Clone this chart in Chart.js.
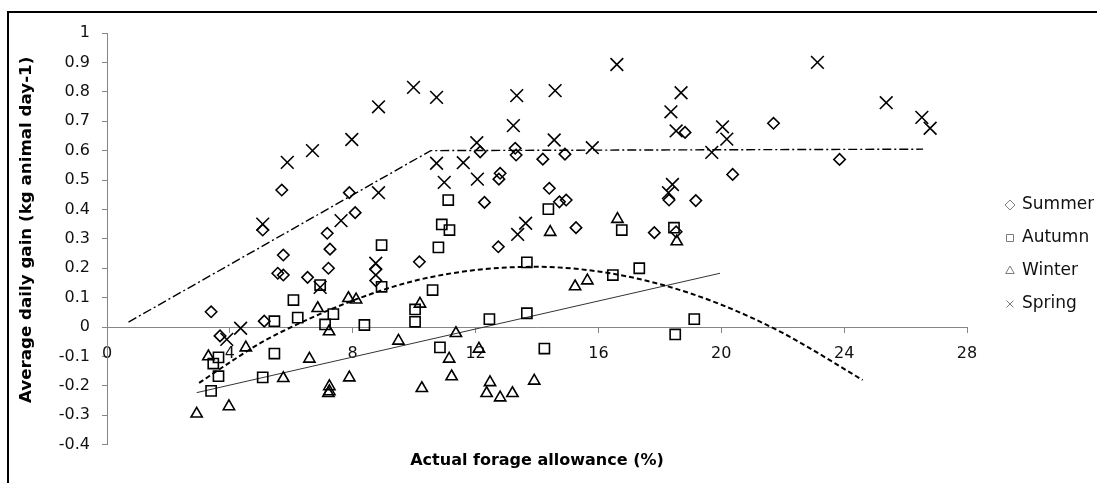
<!DOCTYPE html>
<html>
<head>
<meta charset="utf-8">
<script src="https://cdn.jsdelivr.net/npm/chart.js@4.4.1/dist/chart.umd.min.js"></script>
<style>
  html, body { margin: 0; padding: 0; background: #fff; }
  #frame { position: relative; width: 1097px; height: 483px; overflow: hidden; }
  #edge { position: absolute; left: 7px; top: 11px; right: -5px; bottom: -5px;
          border-left: 2px solid #000; border-top: 2px solid #000; }
  #chart { position: absolute; left: 0; top: 0; }
</style>
</head>
<body>
<div id="frame">
  <div id="edge"></div>
  <canvas id="chart" width="1097" height="483"></canvas>
</div>
<script>
// Observed daily gain by season
const summerX = [3.39, 3.68, 5.12, 5.07, 5.69, 5.74, 5.56, 5.74, 6.53, 7.17, 7.26, 7.21, 7.89, 8.08, 8.75, 8.75, 10.17,
  12.15, 12.8, 12.76, 12.29, 12.74, 13.29, 13.32, 14.19, 14.91, 14.4, 14.73, 14.95, 15.27, 17.82, 18.53, 18.3, 19.17,
  18.82, 20.37, 21.7, 23.85];
const summerY = [0.052, -0.03, 0.02, 0.33, 0.466, 0.245, 0.183, 0.177, 0.169, 0.319, 0.265, 0.2, 0.457, 0.389, 0.196, 0.158, 0.222,
  0.596, 0.523, 0.503, 0.424, 0.273, 0.608, 0.585, 0.571, 0.588, 0.472, 0.426, 0.432, 0.338, 0.321, 0.324, 0.432, 0.43,
  0.662, 0.519, 0.693, 0.57];

const autumnX = [3.39, 3.46, 3.63, 3.63, 5.07, 5.45, 5.45, 6.07, 6.21, 6.94, 7.1, 7.37, 8.38, 8.94, 8.94, 10.03, 10.03,
  10.6, 10.79, 10.9, 11.15, 11.11, 10.84, 12.45, 13.67, 13.67, 14.24, 14.37, 16.47, 17.33, 16.76, 18.46, 19.12, 18.5];
const autumnY = [-0.217, -0.124, -0.103, -0.167, -0.171, -0.09, 0.02, 0.092, 0.032, 0.143, 0.009, 0.044, 0.007, 0.279, 0.137, 0.06, 0.018,
  0.126, 0.271, 0.349, 0.33, 0.432, -0.069, 0.027, 0.22, 0.047, -0.073, 0.401, 0.177, 0.2, 0.33, 0.338, 0.027, -0.025];

const winterX = [2.92, 3.3, 3.97, 4.52, 5.74, 6.59, 6.86, 7.23, 7.24, 7.24, 7.21, 7.86, 8.11, 7.89, 9.49, 10.19, 10.25,
  11.36, 11.14, 11.22, 12.11, 12.47, 12.36, 12.8, 13.2, 13.91, 14.43, 15.24, 15.64, 16.62, 18.55];
const winterY = [-0.295, -0.1, -0.27, -0.07, -0.174, -0.108, 0.064, -0.015, -0.202, -0.219, -0.225, 0.098, 0.093, -0.172, -0.047, 0.079, -0.208,
  -0.021, -0.108, -0.168, -0.074, -0.188, -0.225, -0.24, -0.225, -0.183, 0.323, 0.138, 0.158, 0.367, 0.291];

const springX = [3.9, 4.35, 5.07, 5.87, 6.69, 6.94, 7.62, 7.97, 8.75, 8.84, 8.84, 9.98, 10.73, 10.73, 10.98, 11.6,
  12.04, 12.06, 13.34, 13.23, 13.63, 13.37, 14.59, 14.56, 15.8, 16.6, 18.36, 18.69, 18.53, 18.41, 18.28, 19.69,
  20.04, 20.18, 23.13, 25.37, 26.53, 26.8];
const springY = [-0.042, -0.004, 0.35, 0.56, 0.6, 0.135, 0.362, 0.638, 0.217, 0.749, 0.457, 0.815, 0.781, 0.557, 0.492, 0.559,
  0.627, 0.503, 0.787, 0.685, 0.353, 0.315, 0.804, 0.636, 0.61, 0.893, 0.732, 0.797, 0.667, 0.485, 0.457, 0.594,
  0.681, 0.639, 0.9, 0.763, 0.713, 0.676];

// Fitted response lines
const springFitX = [0.7, 10.54, 26.57];
const springFitY = [0.017, 0.6, 0.605];
const curveX = [3, 4, 5, 6, 8, 10, 12, 14, 16, 18, 20, 22, 24.6];
const curveY = [-0.19, -0.12, -0.054, 0.0, 0.09, 0.157, 0.194, 0.205, 0.189, 0.146, 0.076, -0.02, -0.18];
const winterFitX = [2.92, 19.96];
const winterFitY = [-0.223, 0.183];

// Axis ticks
const xTicks = [0, 4, 8, 12, 16, 20, 24, 28];
const yTicks = [-0.4, -0.3, -0.2, -0.1, 0, 0.1, 0.2, 0.3, 0.4, 0.5, 0.6, 0.7, 0.8, 0.9, 1];

const seriesNames = ['Summer', 'Autumn', 'Winter', 'Spring'];
const xTitle = 'Actual forage allowance (%)';
const yTitle = 'Average daily gain (kg animal day-1)';

const FONT = 'DejaVu Sans, Verdana, sans-serif';
const AXIS_GREY = '#868686';

const pairUp = (xs, ys) => xs.map((x, i) => ({ x, y: ys[i] }));

const markerSet = (label, xs, ys, style, radius) => ({
  label,
  data: pairUp(xs, ys),
  pointStyle: style,
  pointRadius: radius,
  pointHoverRadius: radius,
  pointBorderWidth: 1.6,
  borderColor: '#000',
  backgroundColor: 'rgba(0,0,0,0)',
  showLine: false,
  xAxisID: 'x',
  yAxisID: 'y'
});

const fitLine = (xs, ys, dash, width, color, smooth) => ({
  label: 'fit',
  data: pairUp(xs, ys),
  showLine: true,
  pointRadius: 0,
  pointHoverRadius: 0,
  borderColor: color,
  borderWidth: width,
  borderDash: dash,
  fill: false,
  cubicInterpolationMode: smooth ? 'monotone' : 'default',
  tension: smooth ? 0.4 : 0,
  xAxisID: 'x',
  yAxisID: 'y'
});

// Vertical axis title, set a little above the middle of the plot
const sideTitle = {
  id: 'sideTitle',
  afterDraw(chart) {
    const { ctx, chartArea } = chart;
    ctx.save();
    ctx.translate(26.5, (chartArea.top + chartArea.bottom) / 2 - 9);
    ctx.rotate(-Math.PI / 2);
    ctx.font = 'bold 16.7px ' + FONT;
    ctx.fillStyle = '#000';
    ctx.textAlign = 'center';
    ctx.textBaseline = 'middle';
    ctx.fillText(yTitle, 0, 0);
    ctx.restore();
  }
};

new Chart(document.getElementById('chart'), {
  type: 'scatter',
  plugins: [sideTitle],
  data: {
    datasets: [
      markerSet(seriesNames[0], summerX, summerY, 'rectRot', 5.7),
      markerSet(seriesNames[1], autumnX, autumnY, 'rect', 7.2),
      markerSet(seriesNames[2], winterX, winterY, 'triangle', 6.5),
      markerSet(seriesNames[3], springX, springY, 'crossRot', 9),
      fitLine(springFitX, springFitY, [9, 3, 2, 3], 1.4, '#000', false),
      fitLine(curveX, curveY, [5, 3], 2, '#000', true),
      fitLine(winterFitX, winterFitY, [], 1, '#333', false)
    ]
  },
  options: {
    responsive: false,
    devicePixelRatio: 1,
    animation: false,
    layout: { padding: { top: 33, bottom: 7, left: 0, right: 3 } },
    plugins: {
      tooltip: { enabled: false },
      legend: {
        position: 'right',
        maxWidth: 103.5,
        labels: {
          usePointStyle: true,
          boxWidth: 7,
          boxHeight: 7,
          padding: 16,
          color: '#111',
          font: { family: FONT, size: 17 },
          filter: (item) => item.datasetIndex < seriesNames.length,
          generateLabels(chart) {
            const items = Chart.defaults.plugins.legend.labels.generateLabels(chart);
            items.forEach((it) => {
              it.strokeStyle = '#7a7a7a';
              it.fillStyle = 'rgba(0,0,0,0)';
              it.lineWidth = 1;
            });
            return items;
          }
        }
      }
    },
    scales: {
      x: {
        type: 'linear',
        min: xTicks[0],
        max: xTicks[xTicks.length - 1],
        position: { y: 0 },
        afterBuildTicks: (s) => { s.ticks = xTicks.map((v) => ({ value: v })); },
        ticks: { padding: 12.5, color: '#111', font: { family: FONT, size: 16 } },
        grid: { drawOnChartArea: false, drawTicks: true, tickLength: 5, color: AXIS_GREY },
        border: { color: AXIS_GREY, width: 1 }
      },
      x2: {
        type: 'linear',
        position: 'bottom',
        ticks: { display: false },
        grid: { display: false, drawTicks: false },
        border: { display: false },
        title: {
          display: true,
          text: xTitle,
          color: '#000',
          font: { family: FONT, size: 16, weight: 'bold' },
          padding: { top: 0, bottom: 5.3 }
        },
        afterFit: (s) => { s.height = 31.3; }
      },
      y: {
        type: 'linear',
        position: 'left',
        min: yTicks[0],
        max: yTicks[yTicks.length - 1],
        afterBuildTicks: (s) => { s.ticks = yTicks.map((v) => ({ value: v })); },
        ticks: {
          padding: 12,
          color: '#111',
          font: { family: FONT, size: 16 },
          callback: (v) => String(parseFloat(Number(v).toFixed(1)))
        },
        grid: { drawOnChartArea: false, drawTicks: true, tickLength: 5, color: AXIS_GREY },
        border: { color: AXIS_GREY, width: 1 },
        afterFit: (s) => { s.width = 107; }
      },
      yGap: {
        type: 'linear',
        position: 'right',
        ticks: { display: false },
        grid: { display: false, drawTicks: false },
        border: { display: false },
        afterFit: (s) => { s.width = 23.5; }
      }
    }
  }
});
</script>
</body>
</html>
